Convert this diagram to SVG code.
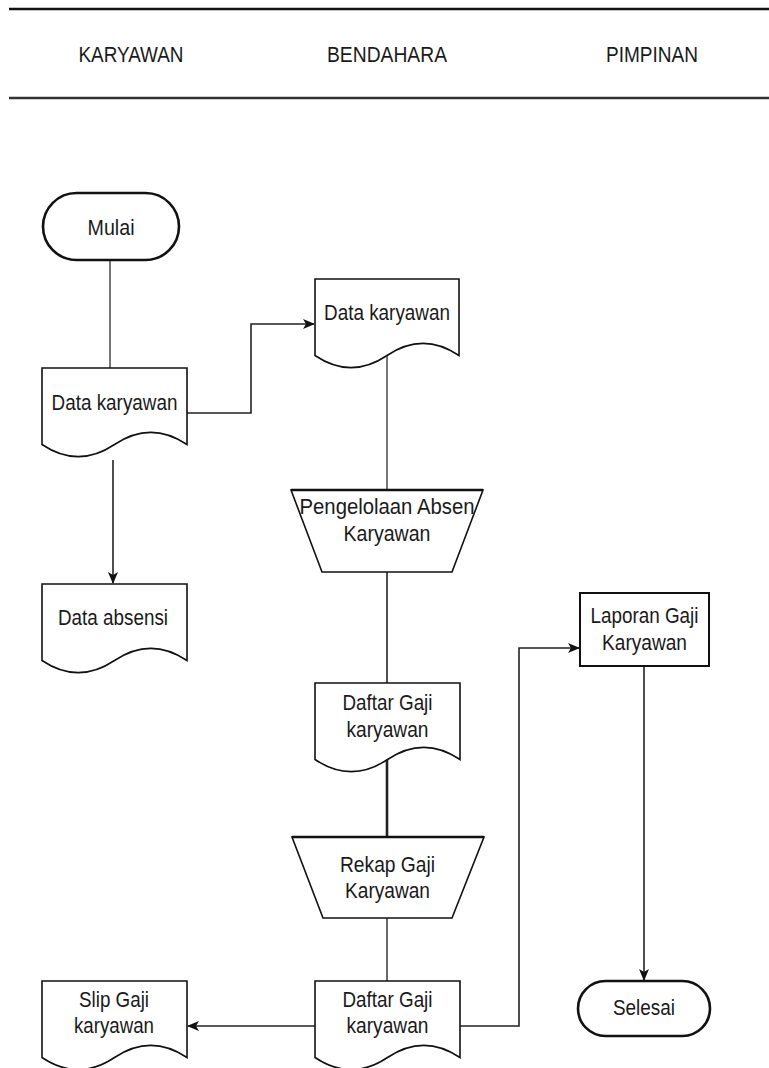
<svg xmlns="http://www.w3.org/2000/svg" width="769" height="1068" viewBox="0 0 769 1068">
<style>
text{font-family:"Liberation Sans Narrow","Liberation Sans",Arial,sans-serif;font-size:22px;fill:#1a1a1a;text-anchor:middle}
.doc{fill:#fff;stroke:#111;stroke-width:1.6}
.term{fill:#fff;stroke:#111;stroke-width:2.6}
.trap{fill:#fff;stroke:#111;stroke-width:1.6}
.trapTop{stroke:#111;stroke-width:2.6}
.box{fill:#fff;stroke:#111;stroke-width:2}
.edge{fill:none;stroke:#222;stroke-width:1.6}
.grey{fill:none;stroke:#777;stroke-width:2}
.hdr{stroke:#111;stroke-width:2.4}
</style>
<defs>
<marker id="arr" viewBox="0 0 12 10" refX="11" refY="5" markerWidth="12" markerHeight="10" markerUnits="userSpaceOnUse" orient="auto">
<path d="M0,0 L12,5 L0,10 L3,5 Z" fill="#111"/>
</marker>
</defs>

<g id="header">
<line class="hdr" x1="9" y1="9" x2="769" y2="9"/>
<line class="hdr" x1="9" y1="98" x2="769" y2="98" style="stroke:#333"/>
<text x="131" y="62" textLength="105" lengthAdjust="spacingAndGlyphs">KARYAWAN</text>
<text x="387" y="62" textLength="120" lengthAdjust="spacingAndGlyphs">BENDAHARA</text>
<text x="652" y="62" textLength="92" lengthAdjust="spacingAndGlyphs">PIMPINAN</text>
</g>

<g id="connectors">
<line class="grey" x1="110" y1="260" x2="110" y2="368"/>
<path class="edge" d="M187,413 H251 V324 H314" marker-end="url(#arr)"/>
<line class="edge" x1="113" y1="460" x2="113" y2="583" marker-end="url(#arr)"/>
<line class="edge" x1="387" y1="356" x2="387" y2="490" style="stroke:#555"/>
<line class="edge" x1="387" y1="572" x2="387" y2="683"/>
<line class="edge" x1="387" y1="760" x2="387" y2="837" style="stroke-width:2.6"/>
<line class="edge" x1="387" y1="918" x2="387" y2="981" style="stroke:#444"/>
<line class="edge" x1="315" y1="1026" x2="188" y2="1026" marker-end="url(#arr)"/>
<path class="edge" d="M460,1026 H519 V648 H579" marker-end="url(#arr)"/>
<line class="edge" x1="644" y1="666" x2="644" y2="980" marker-end="url(#arr)"/>
</g>

<g id="mulai">
<rect class="term" x="43" y="193" width="136" height="67" rx="33.5"/>
<text x="111" y="235" textLength="47" lengthAdjust="spacingAndGlyphs">Mulai</text>
</g>

<g id="data-karyawan-1">
<path class="doc" d="M42,368 H187 V444.5 Q150.75,420.2 114.5,444.5 Q78.25,468.8 42,444.5 Z"/>
<text x="114.5" y="410" textLength="126" lengthAdjust="spacingAndGlyphs">Data karyawan</text>
</g>

<g id="data-absensi">
<path class="doc" d="M42,584 H187 V660.5 Q150.75,636.2 114.5,660.5 Q78.25,684.8 42,660.5 Z"/>
<text x="113" y="625" textLength="110" lengthAdjust="spacingAndGlyphs">Data absensi</text>
</g>

<g id="data-karyawan-2">
<path class="doc" d="M315,279 H459 V355.5 Q423,331.2 387,355.5 Q351,379.8 315,355.5 Z"/>
<text x="387" y="320" textLength="126" lengthAdjust="spacingAndGlyphs">Data karyawan</text>
</g>

<g id="pengelolaan-absen">
<polygon class="trap" points="291,490 483,490 452,572 322,572"/>
<line class="trapTop" x1="291" y1="490" x2="483" y2="490"/>
<text x="387" y="514" textLength="175" lengthAdjust="spacingAndGlyphs">Pengelolaan Absen</text>
<text x="387" y="541" textLength="87" lengthAdjust="spacingAndGlyphs">Karyawan</text>
</g>

<g id="daftar-gaji-1">
<path class="doc" d="M315,683 H460 V759.5 Q423.75,735.2 387.5,759.5 Q351.25,783.8 315,759.5 Z"/>
<text x="387.5" y="710" textLength="90" lengthAdjust="spacingAndGlyphs">Daftar Gaji</text>
<text x="387.5" y="737" textLength="82" lengthAdjust="spacingAndGlyphs">karyawan</text>
</g>

<g id="rekap-gaji">
<polygon class="trap" points="292,837 484,837 452,918 323,918"/>
<line class="trapTop" x1="292" y1="837" x2="484" y2="837"/>
<text x="387.5" y="872" textLength="95" lengthAdjust="spacingAndGlyphs">Rekap Gaji</text>
<text x="387.5" y="898" textLength="85" lengthAdjust="spacingAndGlyphs">Karyawan</text>
</g>

<g id="daftar-gaji-2">
<path class="doc" d="M315,981 H460 V1057.5 Q423.75,1033.2 387.5,1057.5 Q351.25,1081.8 315,1057.5 Z"/>
<text x="387.5" y="1007" textLength="90" lengthAdjust="spacingAndGlyphs">Daftar Gaji</text>
<text x="387.5" y="1033" textLength="82" lengthAdjust="spacingAndGlyphs">karyawan</text>
</g>

<g id="slip-gaji">
<path class="doc" d="M42,981 H187 V1057.5 Q150.75,1033.2 114.5,1057.5 Q78.25,1081.8 42,1057.5 Z"/>
<text x="114" y="1007" textLength="70" lengthAdjust="spacingAndGlyphs">Slip Gaji</text>
<text x="114" y="1033" textLength="80" lengthAdjust="spacingAndGlyphs">karyawan</text>
</g>

<g id="laporan-gaji">
<rect class="box" x="580" y="593" width="129" height="73"/>
<text x="644.5" y="623" textLength="108" lengthAdjust="spacingAndGlyphs">Laporan Gaji</text>
<text x="644.5" y="650" textLength="85" lengthAdjust="spacingAndGlyphs">Karyawan</text>
</g>

<g id="selesai">
<rect class="term" x="578" y="981" width="132" height="55" rx="27.5"/>
<text x="644" y="1015" textLength="62" lengthAdjust="spacingAndGlyphs">Selesai</text>
</g>
</svg>
